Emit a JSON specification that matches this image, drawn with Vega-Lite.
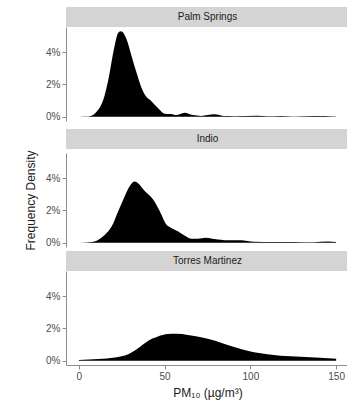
{
  "$schema": "https://vega.github.io/schema/vega-lite/v6.json",
  "padding": {"left": 24, "top": 7, "right": 0, "bottom": 2},
  "config": {
    "view": {"stroke": null},
    "font": "Liberation Sans",
    "axis": {
      "grid": false,
      "domainColor": "#8c8c8c",
      "tickColor": "#8c8c8c",
      "tickSize": 4,
      "labelColor": "#4d4d4d",
      "labelFontSize": 10,
      "labelPadding": 2,
      "titleFontSize": 12,
      "titleFontWeight": "normal",
      "titleColor": "#1a1a1a"
    }
  },
  "datasets": {
    "curves": [
      {"site": "Palm Springs", "pm10": 0, "density": 0.0},
      {"site": "Palm Springs", "pm10": 5.6, "density": 0.0001},
      {"site": "Palm Springs", "pm10": 11.4, "density": 0.0044},
      {"site": "Palm Springs", "pm10": 14.3, "density": 0.0106},
      {"site": "Palm Springs", "pm10": 17.2, "density": 0.023},
      {"site": "Palm Springs", "pm10": 20.1, "density": 0.04},
      {"site": "Palm Springs", "pm10": 23.0, "density": 0.052},
      {"site": "Palm Springs", "pm10": 24.5, "density": 0.0529},
      {"site": "Palm Springs", "pm10": 27.8, "density": 0.048},
      {"site": "Palm Springs", "pm10": 30.7, "density": 0.0377},
      {"site": "Palm Springs", "pm10": 33.6, "density": 0.0274},
      {"site": "Palm Springs", "pm10": 36.5, "density": 0.018},
      {"site": "Palm Springs", "pm10": 38.4, "density": 0.0137},
      {"site": "Palm Springs", "pm10": 42.3, "density": 0.0096},
      {"site": "Palm Springs", "pm10": 46.1, "density": 0.0054},
      {"site": "Palm Springs", "pm10": 50.0, "density": 0.0019},
      {"site": "Palm Springs", "pm10": 53.9, "density": 0.0017},
      {"site": "Palm Springs", "pm10": 56.8, "density": 0.001},
      {"site": "Palm Springs", "pm10": 61.6, "density": 0.0025},
      {"site": "Palm Springs", "pm10": 66.4, "density": 0.001},
      {"site": "Palm Springs", "pm10": 71.2, "density": 0.0005},
      {"site": "Palm Springs", "pm10": 79.0, "density": 0.0015},
      {"site": "Palm Springs", "pm10": 84.8, "density": 0.0004},
      {"site": "Palm Springs", "pm10": 90.5, "density": 0.0003},
      {"site": "Palm Springs", "pm10": 104.0, "density": 0.0006},
      {"site": "Palm Springs", "pm10": 109.9, "density": 0.0003},
      {"site": "Palm Springs", "pm10": 117.6, "density": 0.0005},
      {"site": "Palm Springs", "pm10": 125.0, "density": 0.0002},
      {"site": "Palm Springs", "pm10": 136.8, "density": 0.0004},
      {"site": "Palm Springs", "pm10": 150.0, "density": 0.0002},
      {"site": "Indio", "pm10": 0, "density": 0.0},
      {"site": "Indio", "pm10": 7.5, "density": 0.0004},
      {"site": "Indio", "pm10": 11.4, "density": 0.0019},
      {"site": "Indio", "pm10": 15.2, "density": 0.005},
      {"site": "Indio", "pm10": 19.1, "density": 0.01},
      {"site": "Indio", "pm10": 23.0, "density": 0.0196},
      {"site": "Indio", "pm10": 26.8, "density": 0.029},
      {"site": "Indio", "pm10": 29.7, "density": 0.0352},
      {"site": "Indio", "pm10": 32.6, "density": 0.0379},
      {"site": "Indio", "pm10": 34.5, "density": 0.0369},
      {"site": "Indio", "pm10": 38.4, "density": 0.032},
      {"site": "Indio", "pm10": 43.2, "density": 0.0269},
      {"site": "Indio", "pm10": 47.1, "density": 0.0196},
      {"site": "Indio", "pm10": 51.0, "density": 0.0113},
      {"site": "Indio", "pm10": 53.9, "density": 0.0092},
      {"site": "Indio", "pm10": 57.7, "density": 0.0071},
      {"site": "Indio", "pm10": 61.6, "density": 0.0044},
      {"site": "Indio", "pm10": 65.4, "density": 0.0025},
      {"site": "Indio", "pm10": 69.3, "density": 0.0025},
      {"site": "Indio", "pm10": 74.1, "density": 0.0031},
      {"site": "Indio", "pm10": 79.0, "density": 0.0023},
      {"site": "Indio", "pm10": 86.7, "density": 0.0015},
      {"site": "Indio", "pm10": 94.4, "density": 0.0015},
      {"site": "Indio", "pm10": 102.1, "density": 0.0006},
      {"site": "Indio", "pm10": 113.7, "density": 0.0004},
      {"site": "Indio", "pm10": 125.3, "density": 0.0005},
      {"site": "Indio", "pm10": 136.8, "density": 0.0003},
      {"site": "Indio", "pm10": 145.5, "density": 0.0007},
      {"site": "Indio", "pm10": 150.0, "density": 0.0004},
      {"site": "Torres Martinez", "pm10": 0, "density": 0.0005},
      {"site": "Torres Martinez", "pm10": 11.4, "density": 0.001},
      {"site": "Torres Martinez", "pm10": 21.0, "density": 0.002},
      {"site": "Torres Martinez", "pm10": 28.8, "density": 0.004},
      {"site": "Torres Martinez", "pm10": 34.5, "density": 0.0077},
      {"site": "Torres Martinez", "pm10": 40.3, "density": 0.0123},
      {"site": "Torres Martinez", "pm10": 46.1, "density": 0.015},
      {"site": "Torres Martinez", "pm10": 51.9, "density": 0.0165},
      {"site": "Torres Martinez", "pm10": 56.8, "density": 0.0167},
      {"site": "Torres Martinez", "pm10": 63.5, "density": 0.016},
      {"site": "Torres Martinez", "pm10": 71.2, "density": 0.0146},
      {"site": "Torres Martinez", "pm10": 79.0, "density": 0.0125},
      {"site": "Torres Martinez", "pm10": 86.7, "density": 0.0098},
      {"site": "Torres Martinez", "pm10": 94.4, "density": 0.0073},
      {"site": "Torres Martinez", "pm10": 102.1, "density": 0.0052},
      {"site": "Torres Martinez", "pm10": 109.9, "density": 0.004},
      {"site": "Torres Martinez", "pm10": 117.6, "density": 0.0031},
      {"site": "Torres Martinez", "pm10": 129.2, "density": 0.0025},
      {"site": "Torres Martinez", "pm10": 140.7, "density": 0.0019},
      {"site": "Torres Martinez", "pm10": 150.0, "density": 0.0013}
    ],
    "sites": [
      {"site": "Palm Springs"},
      {"site": "Indio"},
      {"site": "Torres Martinez"}
    ]
  },
  "spacing": 7,
  "vconcat": [
    {
      "spacing": 0,
      "vconcat": [
        {
          "width": 283, "height": 20,
          "view": {"fill": "#d4d4d4", "stroke": null},
          "data": {"name": "sites"},
          "transform": [{"filter": "datum.site === 'Palm Springs'"}],
          "mark": {"type": "text", "fontSize": 10, "color": "#1a1a1a", "baseline": "middle", "align": "center"},
          "encoding": {"text": {"field": "site"}}
        },
        {
          "width": 283, "height": 94,
          "data": {"name": "curves"},
          "transform": [{"filter": "datum.site === 'Palm Springs'"}],
          "mark": {"type": "area", "color": "black", "interpolate": "monotone"},
          "encoding": {
            "x": {"field": "pm10", "type": "quantitative", "scale": {"domain": [-7.5, 157.5], "nice": false, "zero": false}, "axis": null},
            "y": {"field": "density", "type": "quantitative", "scale": {"domain": [-0.00265, 0.0556], "nice": false, "zero": false},
                  "axis": {"values": [0, 0.02, 0.04], "format": ".0%", "title": null}},
            "y2": {"datum": 0}
          }
        }
      ]
    },
    {
      "spacing": 0,
      "vconcat": [
        {
          "spacing": 0,
          "vconcat": [
            {
              "width": 283, "height": 20,
              "view": {"fill": "#d4d4d4", "stroke": null},
              "data": {"name": "sites"},
              "transform": [{"filter": "datum.site === 'Indio'"}],
              "mark": {"type": "text", "fontSize": 10, "color": "#1a1a1a", "baseline": "middle", "align": "center"},
              "encoding": {"text": {"field": "site"}}
            },
            {
              "width": 283, "height": 94,
              "data": {"name": "curves"},
              "transform": [{"filter": "datum.site === 'Indio'"}],
              "mark": {"type": "area", "color": "black", "interpolate": "monotone"},
              "encoding": {
                "x": {"field": "pm10", "type": "quantitative", "scale": {"domain": [-7.5, 157.5], "nice": false, "zero": false}, "axis": null},
                "y": {"field": "density", "type": "quantitative", "scale": {"domain": [-0.00265, 0.0556], "nice": false, "zero": false},
                      "axis": {"values": [0, 0.02, 0.04], "format": ".0%", "title": "Frequency Density", "titlePadding": 8}},
                "y2": {"datum": 0}
              }
            }
          ]
        },
        {
          "spacing": 0,
          "vconcat": [
            {
              "width": 283, "height": 20,
              "view": {"fill": "#d4d4d4", "stroke": null},
              "data": {"name": "sites"},
              "transform": [{"filter": "datum.site === 'Torres Martinez'"}],
              "mark": {"type": "text", "fontSize": 10, "color": "#1a1a1a", "baseline": "middle", "align": "center"},
              "encoding": {"text": {"field": "site"}}
            },
            {
              "width": 283, "height": 94,
              "data": {"name": "curves"},
              "transform": [{"filter": "datum.site === 'Torres Martinez'"}],
              "mark": {"type": "area", "color": "black", "interpolate": "monotone"},
              "encoding": {
                "x": {"field": "pm10", "type": "quantitative", "scale": {"domain": [-7.5, 157.5], "nice": false, "zero": false},
                      "axis": {"values": [0, 50, 100, 150], "title": "PM₁₀ (µg/m³)", "titlePadding": 6}},
                "y": {"field": "density", "type": "quantitative", "scale": {"domain": [-0.00265, 0.0556], "nice": false, "zero": false},
                      "axis": {"values": [0, 0.02, 0.04], "format": ".0%", "title": null}},
                "y2": {"datum": 0}
              }
            }
          ]
        }
      ]
    }
  ]
}
